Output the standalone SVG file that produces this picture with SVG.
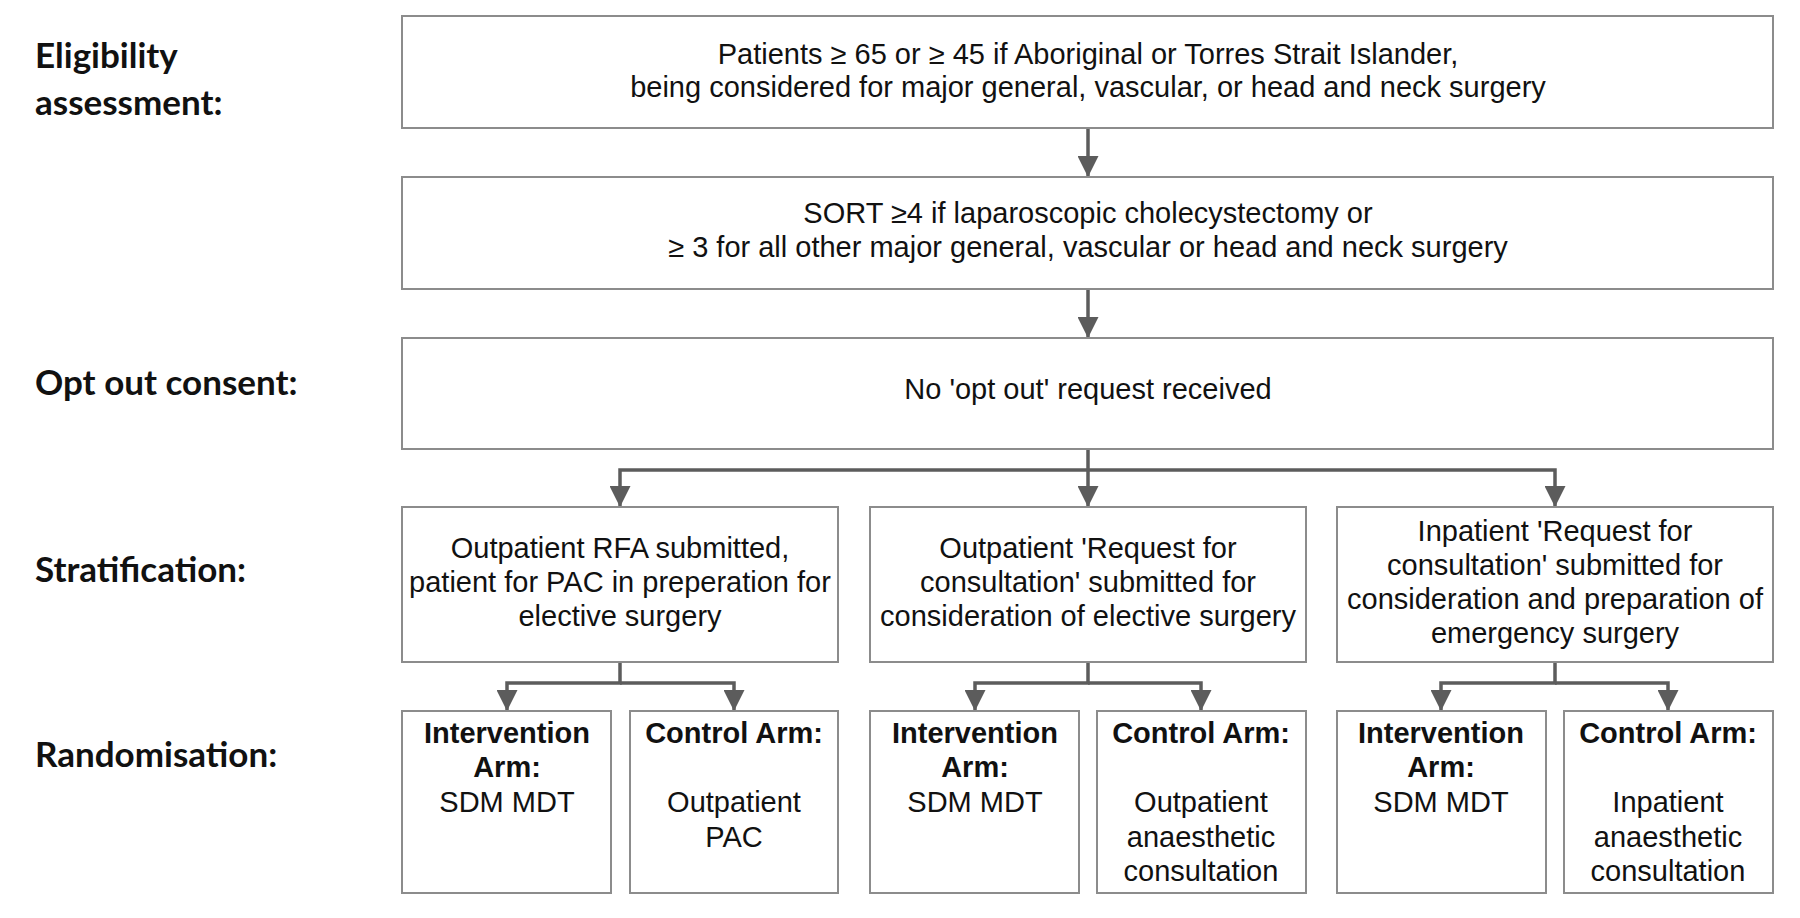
<svg xmlns="http://www.w3.org/2000/svg" width="1800" height="918" viewBox="0 0 1800 918">
<defs>
<style>
.box{fill:#fff;stroke:#8c8c8c;stroke-width:2}
.t{font-family:"Liberation Sans",Arial,sans-serif;font-size:29px;fill:#111;text-anchor:middle}
.b{font-weight:bold}
.lab{font-family:Lato,"Open Sans",sans-serif;font-weight:bold;font-size:35px;fill:#111}
.con{fill:none;stroke:#5c5c5c;stroke-width:3.5}
</style>
<marker id="ah" viewBox="0 0 10 10" refX="10" refY="5" markerWidth="6" markerHeight="6" markerUnits="strokeWidth" orient="auto">
<path d="M0,0 L10,5 L0,10 Z" fill="#5c5c5c"/>
</marker>
</defs>
<rect width="1800" height="918" fill="#fff"/>
<g id="labels">
<text class="lab" x="35" y="68">Eligibility</text>
<text class="lab" x="35" y="115">assessment:</text>
<text class="lab" x="35" y="395">Opt out consent:</text>
<text class="lab" x="35" y="582">Stratification:</text>
<text class="lab" x="35" y="767">Randomisation:</text>
</g>
<g id="connectors">
<path class="con" d="M1088,128 V177" marker-end="url(#ah)"/>
<path class="con" d="M1088,289 V338" marker-end="url(#ah)"/>
<path class="con" d="M1088,449 V507" marker-end="url(#ah)"/>
<path class="con" d="M1088,470 H620 V507" marker-end="url(#ah)"/>
<path class="con" d="M1088,470 H1555 V507" marker-end="url(#ah)"/>
<path class="con" d="M620,662 V683 H507 V711" marker-end="url(#ah)"/>
<path class="con" d="M620,683 H734 V711" marker-end="url(#ah)"/>
<path class="con" d="M1088,662 V683 H975 V711" marker-end="url(#ah)"/>
<path class="con" d="M1088,683 H1201 V711" marker-end="url(#ah)"/>
<path class="con" d="M1555,662 V683 H1441 V711" marker-end="url(#ah)"/>
<path class="con" d="M1555,683 H1668 V711" marker-end="url(#ah)"/>
</g>
<g id="n1">
<rect class="box" x="402" y="16" width="1371" height="112"/>
<text class="t" x="1088" y="64">Patients ≥ 65 or ≥ 45 if Aboriginal or Torres Strait Islander,</text>
<text class="t" x="1088" y="97">being considered for major general, vascular, or head and neck surgery</text>
</g>
<g id="n2">
<rect class="box" x="402" y="177" width="1371" height="112"/>
<text class="t" x="1088" y="223">SORT ≥4 if laparoscopic cholecystectomy or</text>
<text class="t" x="1088" y="257">≥ 3 for all other major general, vascular or head and neck surgery</text>
</g>
<g id="n3">
<rect class="box" x="402" y="338" width="1371" height="111"/>
<text class="t" x="1088" y="399">No 'opt out' request received</text>
</g>
<g id="s1">
<rect class="box" x="402" y="507" width="436" height="155"/>
<text class="t" x="620" y="558">Outpatient RFA submitted,</text>
<text class="t" x="620" y="592">patient for PAC in preperation for</text>
<text class="t" x="620" y="626">elective surgery</text>
</g>
<g id="s2">
<rect class="box" x="870" y="507" width="436" height="155"/>
<text class="t" x="1088" y="558">Outpatient 'Request for</text>
<text class="t" x="1088" y="592">consultation' submitted for</text>
<text class="t" x="1088" y="626">consideration of elective surgery</text>
</g>
<g id="s3">
<rect class="box" x="1337" y="507" width="436" height="155"/>
<text class="t" x="1555" y="541">Inpatient 'Request for</text>
<text class="t" x="1555" y="575">consultation' submitted for</text>
<text class="t" x="1555" y="609">consideration and preparation of</text>
<text class="t" x="1555" y="643">emergency surgery</text>
</g>
<g id="a1">
<rect class="box" x="402" y="711" width="209" height="182"/>
<text class="t b" x="507" y="743">Intervention</text>
<text class="t b" x="507" y="777">Arm:</text>
<text class="t" x="507" y="812">SDM MDT</text>
</g>
<g id="a2">
<rect class="box" x="630" y="711" width="208" height="182"/>
<text class="t b" x="734" y="743">Control Arm:</text>
<text class="t" x="734" y="812">Outpatient</text>
<text class="t" x="734" y="847">PAC</text>
</g>
<g id="a3">
<rect class="box" x="870" y="711" width="209" height="182"/>
<text class="t b" x="975" y="743">Intervention</text>
<text class="t b" x="975" y="777">Arm:</text>
<text class="t" x="975" y="812">SDM MDT</text>
</g>
<g id="a4">
<rect class="box" x="1097" y="711" width="209" height="182"/>
<text class="t b" x="1201" y="743">Control Arm:</text>
<text class="t" x="1201" y="812">Outpatient</text>
<text class="t" x="1201" y="847">anaesthetic</text>
<text class="t" x="1201" y="881">consultation</text>
</g>
<g id="a5">
<rect class="box" x="1337" y="711" width="209" height="182"/>
<text class="t b" x="1441" y="743">Intervention</text>
<text class="t b" x="1441" y="777">Arm:</text>
<text class="t" x="1441" y="812">SDM MDT</text>
</g>
<g id="a6">
<rect class="box" x="1564" y="711" width="209" height="182"/>
<text class="t b" x="1668" y="743">Control Arm:</text>
<text class="t" x="1668" y="812">Inpatient</text>
<text class="t" x="1668" y="847">anaesthetic</text>
<text class="t" x="1668" y="881">consultation</text>
</g>
</svg>
